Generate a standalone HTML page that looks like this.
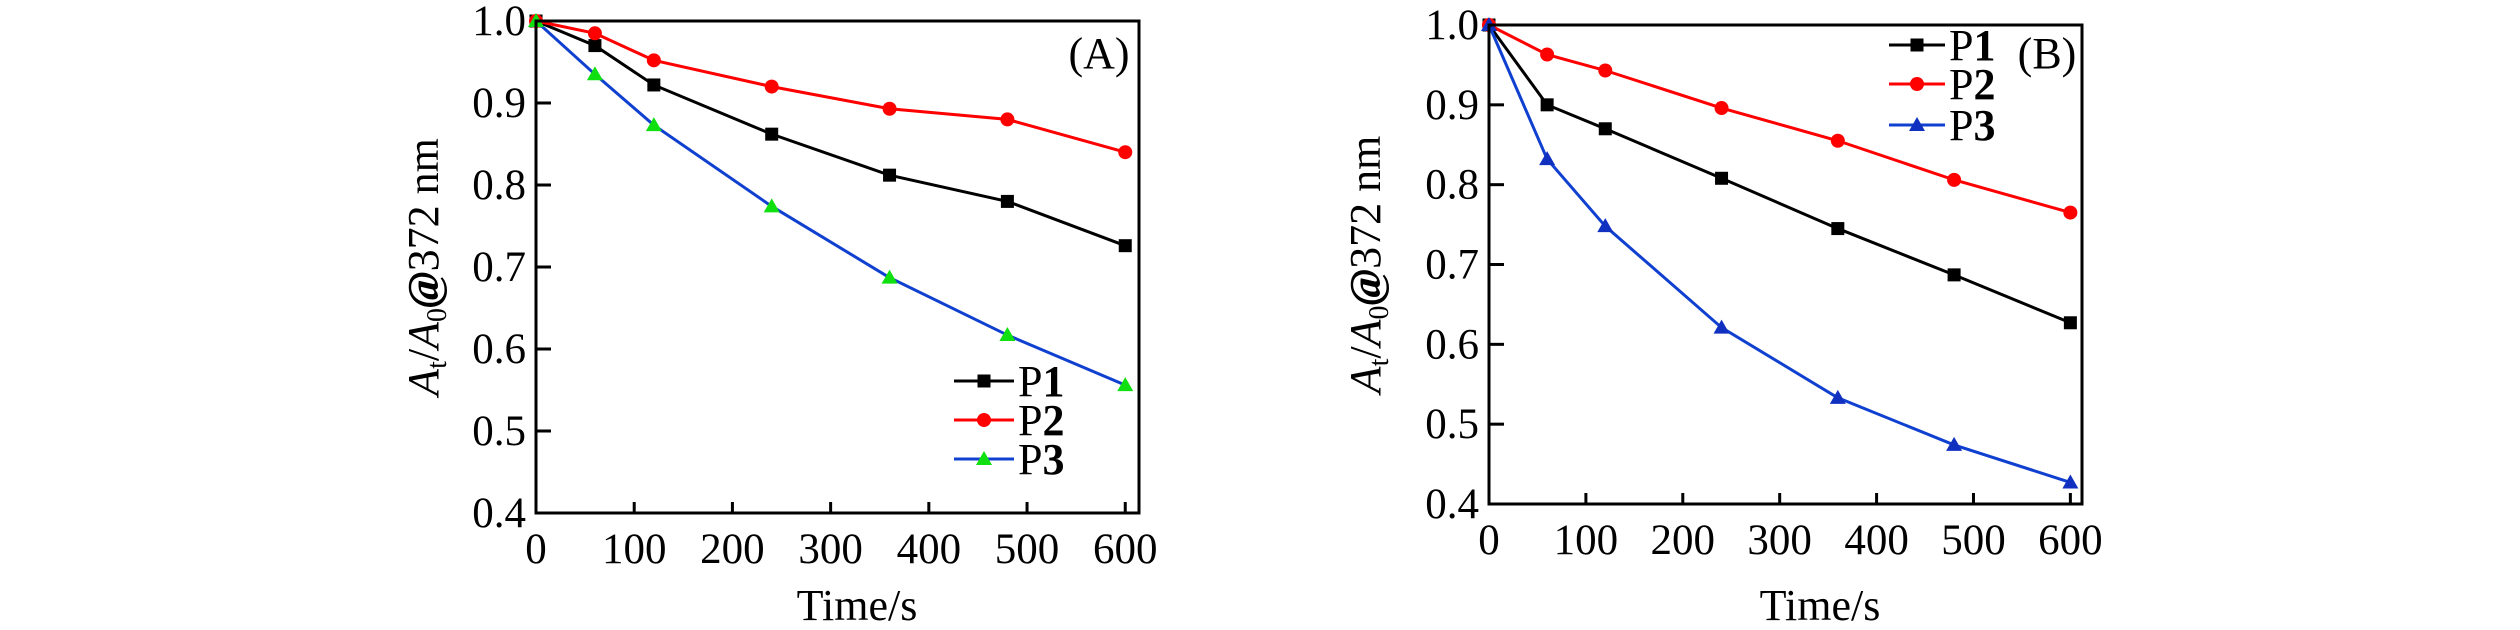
<!DOCTYPE html>
<html><head><meta charset="utf-8"><style>
html,body{margin:0;padding:0;background:#fff;}
svg{display:block;font-family:"Liberation Serif",serif;}
</style></head><body>
<svg id="svg" width="2520" height="630" viewBox="0 0 2520 630" xmlns="http://www.w3.org/2000/svg"></svg>
<script>
const times = [0, 60, 120, 240, 360, 480, 600];
const xTicks = [0, 100, 200, 300, 400, 500, 600];
const yTicks = [0.4, 0.5, 0.6, 0.7, 0.8, 0.9, 1.0];
const seriesNames = ["P1", "P2", "P3"];
const aP1 = [1.0, 0.970, 0.922, 0.862, 0.812, 0.780, 0.726];
const aP2 = [1.0, 0.985, 0.952, 0.920, 0.893, 0.880, 0.840];
const aP3 = [1.0, 0.935, 0.873, 0.774, 0.687, 0.617, 0.556];
const bP1 = [1.0, 0.900, 0.870, 0.808, 0.745, 0.687, 0.627];
const bP2 = [1.0, 0.963, 0.943, 0.896, 0.855, 0.806, 0.765];
const bP3 = [1.0, 0.832, 0.748, 0.621, 0.533, 0.474, 0.427];

const NS = "http://www.w3.org/2000/svg";
const svg = document.getElementById("svg");
function mk(tag, attrs, parent){const e=document.createElementNS(NS,tag);for(const k in attrs)e.setAttribute(k,attrs[k]);(parent||svg).appendChild(e);return e;}

function drawPanel(cfg){
  const g = mk("g",{});
  
  
  const xs = v => cfg.left + (v-0)/(cfg.xMax-0)*(cfg.right-cfg.left);
  const ys = v => cfg.bottom - (v-0.4)/(1.0-0.4)*(cfg.bottom-cfg.top);
  const colors = cfg.colors, markers=["square","circle","triangle"], mcolors=cfg.mcolors;
  cfg.data.forEach((arr,si)=>{
    const sg = mk("g",{},g);
    
    
    const pts = arr.map((v,i)=>xs(cfg.times[i])+","+ys(v)).join(" ");
    mk("polyline",{points:pts,fill:"none",stroke:colors[si],"stroke-width":3},sg);
    arr.forEach((v,i)=>{
      const m = drawMarker(markers[si], xs(cfg.times[i]), ys(v), mcolors[si], sg);
      
      
    });
  });
  const box = mk("rect",{x:cfg.left,y:cfg.top,width:cfg.right-cfg.left,height:cfg.bottom-cfg.top,fill:"none",stroke:"#000","stroke-width":3},g);
  
  
  xTicks.forEach(t=>{
    const x=xs(t);
    if(t>0) mk("line",{x1:x,x2:x,y1:cfg.bottom,y2:cfg.bottom-11,stroke:"#000","stroke-width":3},g);
    const tx = mk("text",{x:x,y:cfg.bottom+50,"font-size":43,"text-anchor":"middle"},g);
    tx.textContent=t;
    
    
  });
  yTicks.forEach(t=>{
    const y=ys(t);
    if(t>0.4 && t<1.0) mk("line",{x1:cfg.left,x2:cfg.left+15,y1:y,y2:y,stroke:"#000","stroke-width":3},g);
    const tx = mk("text",{x:cfg.left-10,y:y+14,"font-size":43,"text-anchor":"end"},g);
    tx.textContent=t.toFixed(1);
    
    
  });
  const xt = mk("text",{x:cfg.xTitleX,y:620,"font-size":44,"text-anchor":"middle"},g);
  xt.textContent="Time/s";
  
  
  const yt = mk("text",{x:0,y:0,"font-size":44,"text-anchor":"middle",transform:`translate(${cfg.yTitleX},${(cfg.top+cfg.bottom)/2}) rotate(-90)`},g);
  yt.innerHTML='<tspan font-style="italic">A</tspan><tspan font-size="28" dy="8">t</tspan><tspan dy="-8">/</tspan><tspan font-style="italic">A</tspan><tspan font-size="28" dy="8">0</tspan><tspan dy="-8" font-style="italic" font-weight="bold">@</tspan>372 nm';
  
  
  const pl = mk("text",{x:cfg.labelX,y:68,"font-size":44,"text-anchor":"middle"},g);
  pl.textContent=cfg.label;
  
  
  seriesNames.forEach((n,si)=>{
    const y = cfg.legY[si];
    const lg = mk("g",{},g);
    
    
    mk("line",{x1:cfg.legX,x2:cfg.legX+cfg.legW,y1:y,y2:y,stroke:colors[si],"stroke-width":3},lg);
    drawMarker(markers[si], cfg.legX+cfg.legW/2, y, mcolors[si], lg);
    const t = mk("text",{x:cfg.legX+cfg.legW+4,y:y+15,"font-size":44},lg);
    t.innerHTML='P<tspan font-weight="bold">'+n.slice(1)+'</tspan>';
  });
}
function drawMarker(type,x,y,c,parent){
  if(type==="square") return mk("rect",{x:x-6.5,y:y-6.5,width:13,height:13,fill:c},parent);
  if(type==="circle") return mk("circle",{cx:x,cy:y,r:7,fill:c},parent);
  return mk("polygon",{points:`${x},${y-8} ${x-8},${y+6} ${x+8},${y+6}`,fill:c},parent);
}
drawPanel({id:"panel-a",left:536,right:1139,top:21,bottom:513,xMax:614,times:times,
  data:[aP1,aP2,aP3],colors:["#000","#f00","#1040d0"],mcolors:["#000","#f00","#10e010"],
  xTitleX:857,yTitleX:438,label:"(A)",labelX:1099,legX:954,legW:60,legY:[381,420,459]});
drawPanel({id:"panel-b",left:1489,right:2082,top:25,bottom:504,xMax:612,times:times,
  data:[bP1,bP2,bP3],colors:["#000","#f00","#1040d0"],mcolors:["#000","#f00","#1030c0"],
  xTitleX:1820,yTitleX:1380,label:"(B)",labelX:2047,legX:1889,legW:56,legY:[45,84,125]});
</script>
</body></html>
